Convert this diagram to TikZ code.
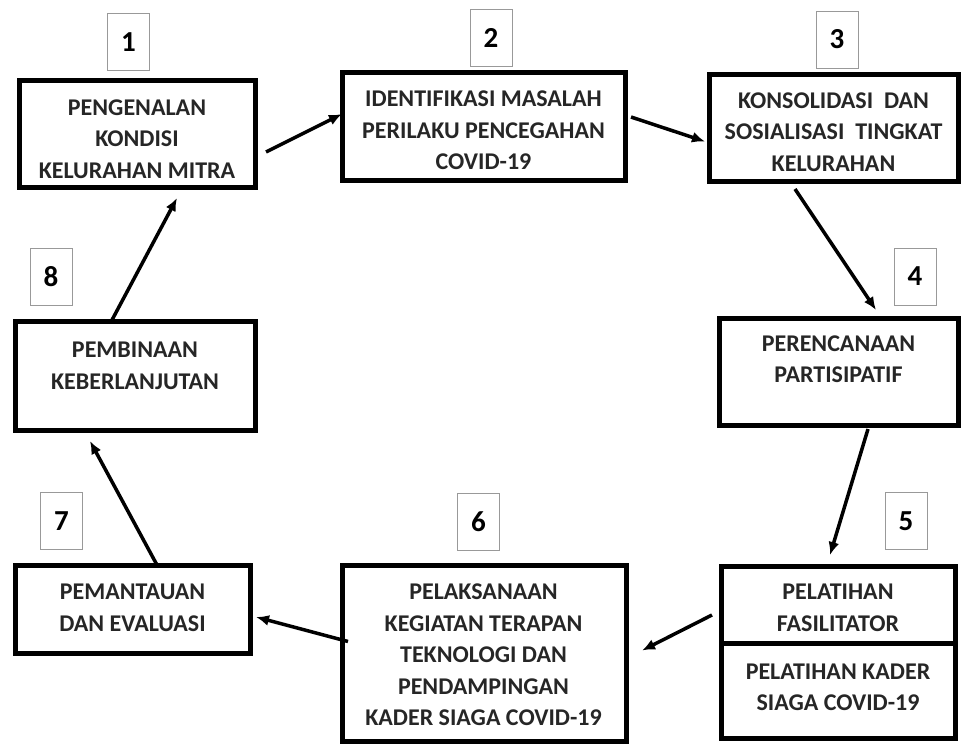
\documentclass[tikz,border=0pt]{standalone}
\usepackage{fontspec}
\setmainfont{Carlito}
\usetikzlibrary{arrows.meta}

\begin{document}
\begin{tikzpicture}[x=1pt,y=-1pt,>={Latex[length=13pt,width=11pt]},
  stage/.style={draw,line width=5pt,inner sep=0pt,outer sep=0pt},
  txt/.style={align=center,text=black!85,font=\bfseries\fontsize{24}{31.5}\selectfont},
  num/.style={draw=black!40,line width=0.8pt,fill=white,minimum width=42pt,minimum height=57pt,inner sep=0pt,font=\bfseries\fontsize{29}{30}\selectfont},
  flow/.style={->,line width=3.5pt}]
\useasboundingbox (0,0) rectangle (962,745);

\node[stage,minimum width=236pt,minimum height=107pt] (b1) at (137,133.5) {};
\node[stage,minimum width=283pt,minimum height=108pt] (b2) at (483.5,126) {};
\node[stage,minimum width=249pt,minimum height=107pt] (b3) at (833.5,127.5) {};
\node[stage,minimum width=239pt,minimum height=107pt] (b4) at (838.5,371.5) {};
\node[stage,minimum width=234pt,minimum height=172pt] (b5) at (838,652) {};
\node[stage,minimum width=284pt,minimum height=176pt] (b6) at (484,653) {};
\node[stage,minimum width=235pt,minimum height=88pt] (b7) at (132.5,609) {};
\node[stage,minimum width=240pt,minimum height=109pt] (b8) at (135,375.5) {};
\draw[line width=5pt] ([yshift=9pt]b5.west) -- ([yshift=9pt]b5.east);

\node[txt] (t1) at (137,139) {PENGENALAN\\KONDISI\\KELURAHAN MITRA};
\node[txt] (t2) at (483.5,130.5) {IDENTIFIKASI MASALAH\\PERILAKU PENCEGAHAN\\COVID-19};
\node[txt] (t3) at (833.5,132) {KONSOLIDASI\ \ DAN\\SOSIALISASI\ \ TINGKAT\\KELURAHAN};
\node[txt] (t4) at (838.5,359) {PERENCANAAN\\PARTISIPATIF};
\node[txt] (t5a) at (838,608) {PELATIHAN\\FASILITATOR};
\node[txt] (t5b) at (838,687.5) {PELATIHAN KADER\\SIAGA COVID-19};
\node[txt] (t6) at (483.5,655) {PELAKSANAAN\\KEGIATAN TERAPAN\\TEKNOLOGI DAN\\PENDAMPINGAN\\KADER SIAGA COVID-19};
\node[txt] (t7) at (132.5,608) {PEMANTAUAN\\DAN EVALUASI};
\node[txt] (t8) at (135,366) {PEMBINAAN\\KEBERLANJUTAN};

\node[num] (n1) at (128.5,42) {1};
\node[num] (n2) at (491,37.5) {2};
\node[num] (n3) at (837,39.5) {3};
\node[num] (n4) at (915,276.5) {4};
\node[num] (n5) at (906,521) {5};
\node[num] (n6) at (478.5,522) {6};
\node[num] (n7) at (61.5,521) {7};
\node[num] (n8) at (51,276.5) {8};

\draw[flow] ([xshift=11pt,yshift=-18.5pt]b1.east) -- ([yshift=12pt]b2.west);
\draw[flow] ([xshift=6pt,yshift=9pt]b2.east) -- ([xshift=-4pt,yshift=-14pt]b3.west);
\draw[flow] ([xshift=-38.5pt,yshift=-8pt]b3.south) -- ([xshift=37.5pt,yshift=8pt]b4.north);
\draw[flow] ([xshift=29.5pt,yshift=-4pt]b4.south) -- ([xshift=-8pt,yshift=11pt]b5.north);
\draw[flow] ([xshift=-9pt,yshift=37pt]b5.west) -- ([xshift=16pt,yshift=2.5pt]b6.east);
\draw[flow] ([xshift=6pt,yshift=11.5pt]b6.west) -- ([xshift=6pt,yshift=-8pt]b7.east);
\draw[flow] ([xshift=24.5pt]b7.north) -- ([xshift=-45pt,yshift=-11pt]b8.south);
\draw[flow] ([xshift=-23pt,yshift=1pt]b8.north) -- ([xshift=40pt,yshift=-11pt]b1.south);
\end{tikzpicture}
\end{document}
